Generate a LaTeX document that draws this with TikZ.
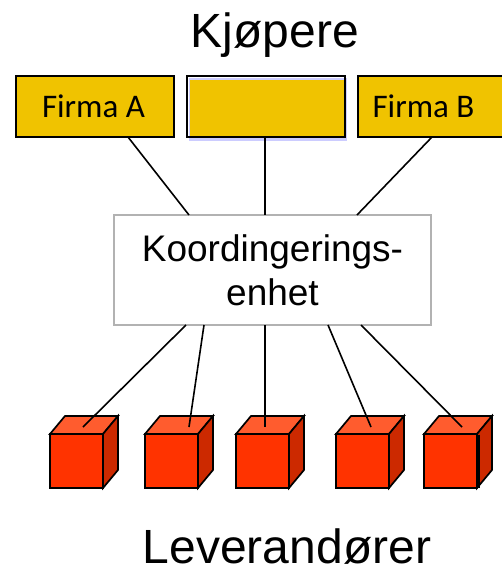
\documentclass[tikz,border=0pt]{standalone}
\usepackage{fontspec}
\setmainfont{Liberation Sans}
\newfontfamily\firmafont{Carlito}
\usetikzlibrary{calc}
\definecolor{firmacolor}{RGB}{240,195,0}
\definecolor{cubefront}{RGB}{255,51,0}
\definecolor{cubetop}{RGB}{255,92,46}
\definecolor{cubeside}{RGB}{204,41,0}
\tikzset{
  firma/.style={draw=black, line width=1.7pt, fill=firmacolor, minimum width=158pt, minimum height=61pt, inner sep=0, outer sep=0, anchor=north west, font=\firmafont\fontsize{33}{33}\selectfont},
  koord/.style={draw=black!30, line width=1.7pt, fill=white, minimum width=317pt, minimum height=110pt, inner sep=0, outer sep=0, align=center, anchor=north west, font=\fontsize{37}{44}\selectfont},
  title/.style={inner sep=0, font=\fontsize{48}{48}\selectfont},
  cubeface/.style={draw=black, line width=1.7pt, line join=miter},
  link/.style={line width=1.6pt},
}
% x: left edge, y: top edge of front face, #3: name
\newcommand\cube[3]{%
  \node (#3) [cubeface, fill=cubefront, minimum width=53pt, minimum height=54pt, inner sep=0, outer sep=0, anchor=north west] at (#1,#2) {};
  \fill [cubetop, cubeface] (#3.north west) -- ++(15,-18) -- ++(53,0) -- (#3.north east) -- cycle;
  \fill [cubeside, cubeface] (#3.north east) -- ++(15,-18) -- ++(0,54) -- (#3.south east) -- cycle;
}

\begin{document}
\begin{tikzpicture}[x=1pt,y=-1pt]
\useasboundingbox (0,0) rectangle (501,567);

\node (kjopere) [title] at (275,35) {Kjøpere};
\node (leverandorer) [title] at (287,547) {Leverandører};

% Firms
\node (firmaA) [firma] at (16,76) {\hspace*{-3pt}Firma A};
\fill [blue!20] (189,78) rectangle (347,141);
\fill [firmacolor] (190,80) rectangle (345,137);
\node (firmaM) [firma, fill=none] at (187,76) {};
\node (firmaB) [firma] at (358,76) {Firma B\hspace*{27pt}};

\node (enhet) [koord] at (114,215) {Koordingerings-\\enhet};

% Cubes
\cube{50}{434}{cubeA}
\cube{145}{434}{cubeB}
\cube{236}{434}{cubeC}
\cube{336}{434}{cubeD}
\cube{424}{434}{cubeE}

\coordinate (topA) at (83,427);
\coordinate (topB) at (189,427);
\coordinate (topC) at (265,427);
\coordinate (topD) at (371,427);
\coordinate (topE) at (462,427);
\coordinate (edgeA) at (479,435);
\coordinate (edgeB) at (479,488);

\draw [link] (firmaA.south -| 128,0) -- (enhet.north -| 189,0);
\draw [link] (firmaM.south -| 265,0) -- (enhet.north -| 265,0);
\draw [link] (firmaB.south -| 432,0) -- (enhet.north -| 357,0);

\draw [link] (enhet.south -| 186,0) -- (topA);
\draw [link] (enhet.south -| 204,0) -- (topB);
\draw [link] (enhet.south -| 265,0) -- (topC);
\draw [link] (enhet.south -| 328,0) -- (topD);
\draw [link] (enhet.south -| 361,0) -- (topE);
\draw [link] (edgeA) -- (edgeB);

\end{tikzpicture}
\end{document}
